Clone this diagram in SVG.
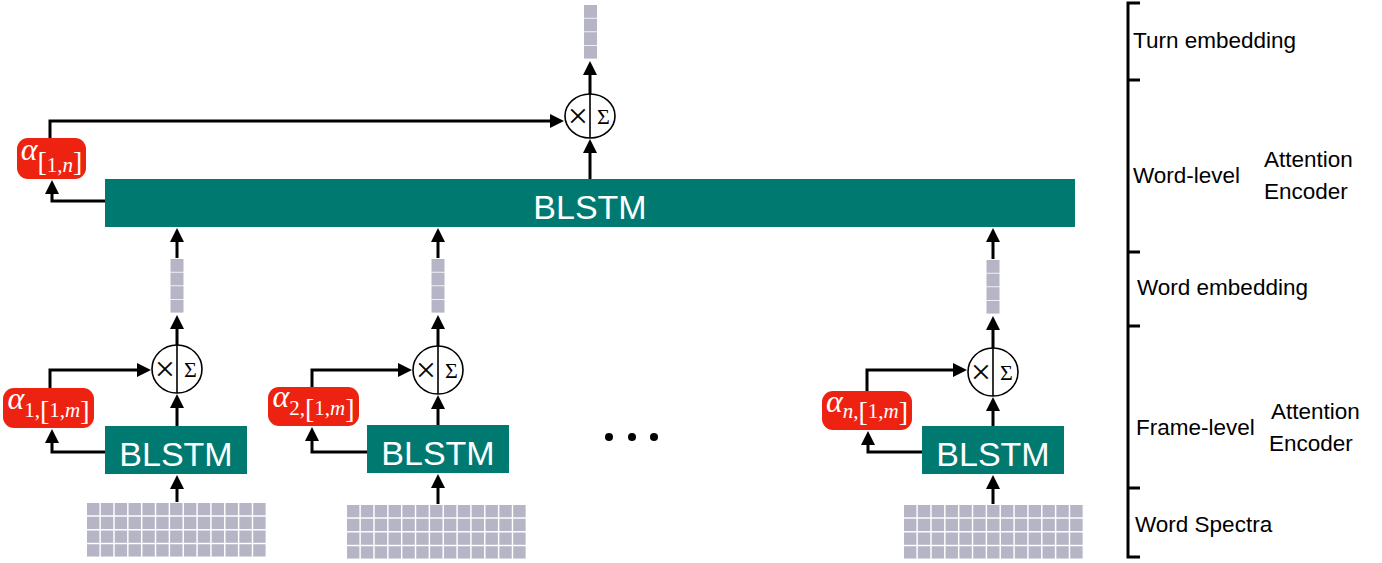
<svg xmlns="http://www.w3.org/2000/svg" xmlns:xlink="http://www.w3.org/1999/xlink" width="1382" height="563" viewBox="0 0 1382 563">
<style>
.blstm{fill:#007a71}
.bt{font-family:"Liberation Sans",Arial,sans-serif;font-size:34px;fill:#fff;text-anchor:middle}
.red{fill:#ee2211}
.al{font-family:"Liberation Serif","Times New Roman",serif;fill:#fff;text-anchor:middle}
.a{font-style:italic;font-size:32px}
.s{font-size:21px}
.i{font-style:italic}
.b{font-size:28px}
.cell{fill:#b5b5c6}
.op{fill:#fff;stroke:#000;stroke-width:1.6}
.div{stroke:#000;stroke-width:1.6}
.sym{font-family:"Liberation Serif","Times New Roman",serif;fill:#000;text-anchor:middle}
.x{font-size:36px}
.sg{font-size:22px}
.conn path{fill:none;stroke:#000;stroke-width:3;marker-end:url(#ah)}
.lbl{font-family:"Liberation Sans",Arial,sans-serif;font-size:22.5px;fill:#000}
.brk{fill:none;stroke:#000;stroke-width:3}
</style>
<defs>
<marker id="ah" markerUnits="userSpaceOnUse" markerWidth="14" markerHeight="14" viewBox="0 0 14 14" refX="8" refY="7" orient="auto">
<path d="M0,0 L14,7 L0,14 z" fill="#000"/>
</marker>
<g id="emb">
<rect class="cell" x="0" y="0" width="13" height="12.8"/>
<rect class="cell" x="0" y="13.6" width="13" height="12.8"/>
<rect class="cell" x="0" y="27.2" width="13" height="12.8"/>
<rect class="cell" x="0" y="40.8" width="13" height="12.8"/>
</g>
<g id="row">
<rect class="cell" x="0" y="0" width="12.4" height="12.3"/>
<rect class="cell" x="13.85" y="0" width="12.4" height="12.3"/>
<rect class="cell" x="27.7" y="0" width="12.4" height="12.3"/>
<rect class="cell" x="41.55" y="0" width="12.4" height="12.3"/>
<rect class="cell" x="55.4" y="0" width="12.4" height="12.3"/>
<rect class="cell" x="69.25" y="0" width="12.4" height="12.3"/>
<rect class="cell" x="83.1" y="0" width="12.4" height="12.3"/>
<rect class="cell" x="96.95" y="0" width="12.4" height="12.3"/>
<rect class="cell" x="110.8" y="0" width="12.4" height="12.3"/>
<rect class="cell" x="124.65" y="0" width="12.4" height="12.3"/>
<rect class="cell" x="138.5" y="0" width="12.4" height="12.3"/>
<rect class="cell" x="152.35" y="0" width="12.4" height="12.3"/>
<rect class="cell" x="166.2" y="0" width="12.4" height="12.3"/>
</g>
<g id="grid">
<use xlink:href="#row" href="#row" y="0"/>
<use xlink:href="#row" href="#row" y="13.75"/>
<use xlink:href="#row" href="#row" y="27.5"/>
<use xlink:href="#row" href="#row" y="41.25"/>
</g>
</defs>
<rect width="1382" height="563" fill="#fff"/>

<g id="connectors" class="conn">
<path d="M105,201 H52 V186"/>
<path d="M50,138 V121 H558"/>
<path d="M590,179 V145"/>
<path d="M590,94 V67"/>
<path d="M177,502 V481"/>
<path d="M177,426 V400"/>
<path d="M177,345 V321"/>
<path d="M177,258 V234"/>
<path d="M50,388 V370 H145"/>
<path d="M105,452 H52 V435"/>
<path d="M438,504 V480"/>
<path d="M438,425 V401"/>
<path d="M438,346 V321"/>
<path d="M438,258 V234"/>
<path d="M312,387 V370 H406"/>
<path d="M367,452 H312 V433"/>
<path d="M993,504 V481"/>
<path d="M993,426 V403"/>
<path d="M993,348 V322"/>
<path d="M993,259 V234"/>
<path d="M867,391 V370 H961"/>
<path d="M922,452 H868 V437"/>
</g>

<g id="turn_embedding"><use xlink:href="#emb" href="#emb" x="584" y="5"/></g>
<g id="turn_attention">
<ellipse class="op" cx="590" cy="116" rx="25" ry="22"/>
<line class="div" x1="590" y1="94" x2="590" y2="138"/>
<text class="sym x" x="578" y="128">×</text>
<text class="sym sg" x="603.5" y="123.5">Σ</text>
</g>
<g id="alpha_turn">
<rect class="red" x="17" y="138" width="69" height="41" rx="11"/>
<text class="al" x="51.5" y="160"><tspan class="a">α</tspan><tspan class="b" font-size="25px" dy="11">[</tspan><tspan class="s" dy="1">1,</tspan><tspan class="s i">n</tspan><tspan class="b" font-size="25px" dy="-1">]</tspan></text>
</g>
<g id="word_blstm">
<rect class="blstm" x="105" y="179" width="970" height="48"/>
<text class="bt" x="590" y="219">BLSTM</text>
</g>

<g id="word1">
<use xlink:href="#emb" href="#emb" x="170.5" y="259"/>
<ellipse class="op" cx="177" cy="369" rx="25" ry="24"/>
<line class="div" x1="177" y1="345" x2="177" y2="393"/>
<text class="sym x" x="165" y="381">×</text>
<text class="sym sg" x="190.5" y="376.5">Σ</text>
<rect class="red" x="3" y="388" width="91" height="40" rx="11"/>
<text class="al" x="48.5" y="409"><tspan class="a">α</tspan><tspan class="s" dy="8">1,</tspan><tspan class="b" dy="3">[</tspan><tspan class="s" dy="-3">1,</tspan><tspan class="s i">m</tspan><tspan class="b" dy="3">]</tspan></text>
<rect class="blstm" x="105" y="426" width="142" height="48"/>
<text class="bt" x="176" y="466">BLSTM</text>
<use xlink:href="#grid" href="#grid" x="87" y="503"/>
</g>

<g id="word2">
<use xlink:href="#emb" href="#emb" x="431.5" y="259"/>
<ellipse class="op" cx="438" cy="370" rx="25" ry="24"/>
<line class="div" x1="438" y1="346" x2="438" y2="394"/>
<text class="sym x" x="426" y="382">×</text>
<text class="sym sg" x="451.5" y="377.5">Σ</text>
<rect class="red" x="268" y="387" width="91" height="39" rx="11"/>
<text class="al" x="313.5" y="407"><tspan class="a">α</tspan><tspan class="s" dy="8">2,</tspan><tspan class="b" dy="3">[</tspan><tspan class="s" dy="-3">1,</tspan><tspan class="s i">m</tspan><tspan class="b" dy="3">]</tspan></text>
<rect class="blstm" x="367" y="425" width="142" height="48"/>
<text class="bt" x="438" y="465">BLSTM</text>
<use xlink:href="#grid" href="#grid" x="347" y="505"/>
</g>

<g id="ellipsis">
<circle cx="609" cy="437" r="4"/>
<circle cx="632" cy="437" r="4"/>
<circle cx="654" cy="437" r="4"/>
</g>

<g id="wordn">
<use xlink:href="#emb" href="#emb" x="986.5" y="260"/>
<ellipse class="op" cx="993" cy="372" rx="25" ry="24"/>
<line class="div" x1="993" y1="348" x2="993" y2="396"/>
<text class="sym x" x="981" y="384">×</text>
<text class="sym sg" x="1006.5" y="379.5">Σ</text>
<rect class="red" x="822" y="391" width="90" height="39" rx="11"/>
<text class="al" x="867" y="412"><tspan class="a">α</tspan><tspan class="s i" dy="6">n</tspan><tspan class="s">,</tspan><tspan class="b" dy="3">[</tspan><tspan class="s" dy="-3">1,</tspan><tspan class="s i">m</tspan><tspan class="b" dy="3">]</tspan></text>
<rect class="blstm" x="922" y="426" width="142" height="48"/>
<text class="bt" x="993" y="466">BLSTM</text>
<use xlink:href="#grid" href="#grid" x="904" y="505"/>
</g>

<g id="legend">
<path class="brk" d="M1140,3 H1128 V557 H1140 M1128,80 H1140 M1128,252 H1140 M1128,326 H1140 M1128,488 H1140"/>
<text class="lbl" x="1133" y="48">Turn embedding</text>
<text class="lbl" x="1133" y="183">Word-level</text>
<text class="lbl" x="1264" y="167">Attention</text>
<text class="lbl" x="1264" y="199">Encoder</text>
<text class="lbl" x="1137" y="295">Word embedding</text>
<text class="lbl" x="1136" y="435">Frame-level</text>
<text class="lbl" x="1271" y="419">Attention</text>
<text class="lbl" x="1269" y="451">Encoder</text>
<text class="lbl" x="1135" y="532">Word Spectra</text>
</g>
</svg>
